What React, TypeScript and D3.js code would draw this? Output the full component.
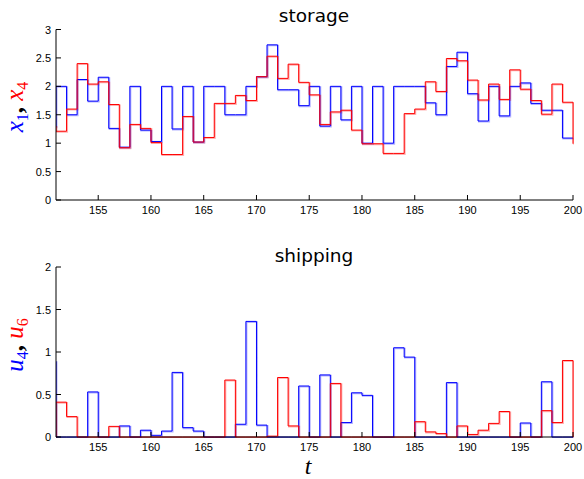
import React from 'react';
import * as d3 from 'd3';

// time steps 150..200 (plot is clipped to 151..200)
const steps = d3.range(150, 201);

const storageX1 = [1.29, 2.0, 1.5, 2.12, 1.74, 2.16, 1.26, 0.93, 2.0, 1.23, 1.03,
  2.0, 1.25, 2.0, 1.02, 2.0, 2.0, 1.5, 1.5, 2.0, 2.17,
  2.73, 1.94, 1.94, 1.66, 2.0, 1.3, 2.0, 1.41, 2.0, 1.0,
  2.0, 1.0, 2.0, 2.0, 2.0, 1.71, 1.5, 2.35, 2.6, 1.87,
  1.39, 2.0, 1.48, 2.0, 2.06, 1.7, 1.58, 1.58, 1.09, 1.09];
const storageX4 = [1.3, 1.21, 1.6, 2.4, 2.04, 2.08, 1.68, 0.92, 1.33, 1.26, 1.01,
  0.8, 0.8, 1.47, 1.02, 1.1, 1.7, 1.7, 1.84, 1.75, 2.17,
  2.53, 2.14, 2.39, 2.07, 1.85, 1.33, 1.55, 1.58, 1.23, 0.99,
  0.99, 0.82, 0.82, 1.52, 1.6, 2.08, 1.91, 2.49, 2.45, 2.11,
  1.76, 2.04, 1.77, 2.29, 1.95, 1.75, 1.51, 2.04, 1.72, 0.99];
const shippingU4 = [0.89, 0, 0, 0, 0.53, 0, 0, 0.13, 0, 0.08, 0.02,
  0.07, 0.76, 0.11, 0.07, 0, 0, 0, 0.15, 1.36, 0.14,
  0, 0, 0, 0.6, 0, 0.73, 0, 0.17, 0.52, 0.49,
  0, 0, 1.05, 0.94, 0, 0, 0, 0.64, 0, 0,
  0, 0, 0, 0, 0.165, 0, 0.65, 0, 0, 0];
const shippingU6 = [0, 0.41, 0.24, 0, 0, 0, 0.125, 0, 0, 0, 0,
  0, 0, 0, 0, 0, 0, 0.67, 0, 0, 0,
  0.01, 0.7, 0.13, 0, 0, 0, 0.63, 0, 0, 0,
  0, 0, 0, 0, 0.18, 0.06, 0.04, 0, 0.13, 0.03,
  0.08, 0.16, 0.3, 0, 0, 0, 0.31, 0.17, 0.9, 0];

const xTicks = [155, 160, 165, 170, 175, 180, 185, 190, 195, 200];
const storageTicks = [0, 0.5, 1, 1.5, 2, 2.5, 3];
const shippingTicks = [0, 0.5, 1, 1.5, 2];

const W = 584, H = 479;
const left = 56, right = 573;
const blue = '#0000ff', red = '#ff0000';
const tickFont = '"Liberation Sans", Arial, sans-serif';
const mathFont = '"Liberation Serif", "DejaVu Serif", serif';

function Panel({ id, top, bottom, yMax, yTicks, blueVals, redVals, title, titleY, labelY, yl }) {
  const x = d3.scaleLinear().domain([151, 200]).range([left, right]);
  const y = d3.scaleLinear().domain([0, yMax]).range([bottom, top]);
  const line = d3.line().curve(d3.curveStepAfter)
    .x((d) => x(d[0])).y((d) => y(d[1]));
  const bPts = steps.map((t, i) => [t, blueVals[i]]);
  const rPts = steps.map((t, i) => [t, redVals[i]]);
  return (
    <g>
      <defs>
        <clipPath id={id}>
          <rect x={left} y={top - 2} width={right - left + 1} height={bottom - top + 3} />
        </clipPath>
      </defs>
      <text x={314} y={titleY} textAnchor="middle"
        fontFamily='"DejaVu Sans", sans-serif' fontSize="18.5px" fill="#000">{title}</text>
      <g clipPath={`url(#${id})`} fill="none">
        <path d={line(bPts)} stroke={blue} strokeOpacity="0.3" strokeWidth="1.6" transform="translate(0.7,0.7)" />
        <path d={line(rPts)} stroke={red} strokeOpacity="0.3" strokeWidth="1.6" transform="translate(0.7,0.7)" />
        <path d={line(bPts)} stroke={blue} strokeWidth="1" />
        <path d={line(rPts)} stroke={red} strokeWidth="1" />
      </g>
      {/* axes */}
      <line x1={left} x2={left} y1={top} y2={bottom} stroke="#000" />
      <line x1={left} x2={right} y1={bottom} y2={bottom} stroke="#000" />
      {yTicks.map((v) => (
        <g key={'y' + v}>
          <line x1={left} x2={left + 5} y1={y(v)} y2={y(v)} stroke="#000" />
          <text x={left - 5} y={y(v) + 4} textAnchor="end" fontFamily={tickFont}
            fontSize="11px" fill="#000">{String(v)}</text>
        </g>
      ))}
      {xTicks.map((v) => (
        <g key={'x' + v}>
          <line x1={x(v)} x2={x(v)} y1={bottom} y2={bottom - 5} stroke="#000" />
          <text x={x(v)} y={bottom + 14} textAnchor="middle" fontFamily={tickFont}
            fontSize="11px" fill="#000">{v}</text>
        </g>
      ))}
      <text transform={`translate(23,${labelY}) rotate(-90)`} textAnchor="middle"
        fontFamily={mathFont} fontStyle="italic" fontSize="25px">
        <tspan fill={blue}>{yl[0]}</tspan>
        <tspan fill={blue} fontSize="16px" fontStyle="normal" dy="5">{yl[1]}</tspan>
        <tspan fill="#000" dy="-5" fontStyle="normal" fontWeight="bold">{', '}</tspan>
        <tspan fill={red}>{yl[2]}</tspan>
        <tspan fill={red} fontSize="16px" fontStyle="normal" dy="5">{yl[3]}</tspan>
      </text>
    </g>
  );
}

export default function App() {
  return (
    <svg width={W} height={H} style={{ position: 'fixed', left: 0, top: 0, background: '#fff' }}>
      <rect width={W} height={H} fill="#fff" />
      <Panel id="clipTop" top={29.5} bottom={200} yMax={3} yTicks={storageTicks}
        blueVals={storageX1} redVals={storageX4} title="storage" titleY={22}
        labelY={107} yl={['x', '1', 'x', '4']} />
      <Panel id="clipBot" top={267} bottom={437} yMax={2} yTicks={shippingTicks}
        blueVals={shippingU4} redVals={shippingU6} title="shipping" titleY={262}
        labelY={345} yl={['u', '4', 'u', '6']} />
      <text x={308} y={474} textAnchor="middle" fontFamily={mathFont} fontStyle="italic"
        fontSize="24px" fill="#000">t</text>
    </svg>
  );
}
